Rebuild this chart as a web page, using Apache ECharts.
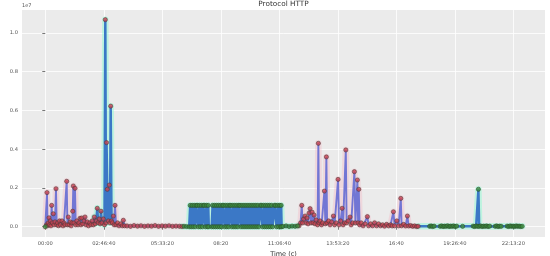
<!DOCTYPE html>
<html><head><meta charset="utf-8">
<script src="https://cdn.jsdelivr.net/npm/echarts@6/dist/echarts.min.js"></script>
<style>html,body{margin:0;padding:0;background:#fff}#c{width:550px;height:256px}</style>
</head><body><div id="c"></div><script>
// time in seconds since 00:00, dbytes in units of 1e7
const xTickValues = [0, 10000, 20000, 30000, 40000, 50000, 60000, 70000, 80000];
const xTickLabels = ['00:00', '02:46:40', '05:33:20', '08:20', '11:06:40', '13:53:20', '16:40', '19:26:40', '22:13:20'];
const yTickValues = [0, 0.2, 0.4, 0.6, 0.8, 1.0];

const dawnPoints = [[0, 0]];
const morningPoints = [
  [210,0.01],[290,0.176],[390,0.005],[510,0.02],[630,0.046],[740,0.01],[860,0.03],[970,0.005],
  [1090,0.11],[1200,0.02],[1370,0.067],[1490,0.01],[1660,0.025],[1830,0.196],[1950,0.01],[2090,0.02],
  [2260,0.005],[2430,0.03],[2600,0.01],[2860,0.03],[3030,0.005],[3200,0.02],[3370,0.01],[3660,0.234],
  [3780,0.01],[3930,0.05],[4090,0.01],[4260,0.025],[4430,0.005],[4570,0.02],[4690,0.08],[4790,0.21],
  [4910,0.02],[5080,0.198],[5200,0.01],[5390,0.03],[5590,0.01],[5760,0.02],[5930,0.043],[6100,0.01],
  [6220,0.045],[6410,0.015],[6620,0.03],[6790,0.05],[6960,0.01],[7170,0.025],[7390,0.005],[7610,0.02],
  [7810,0.01],[8020,0.03],[8210,0.01],[8380,0.05],[8550,0.015],[8720,0.03],[8890,0.095],[9050,0.02],
  [9220,0.04],[9390,0.015],[9520,0.08],[9700,0.02],[9920,0.04],[10120,0.01],[10260,1.068],[10380,0.02],
  [10470,0.434],[10600,0.193],[10770,0.03],[10940,0.215],[11060,0.02],[11180,0.622],[11320,0.03],[11460,0.02],
  [11630,0.055],[11780,0.01],[11920,0.11],[12090,0.01],[12350,0.02],[12600,0.005],[12910,0.015],[13170,0.005],
  [13340,0.033],[13540,0.005],[13970,0.004],[14570,0.002],[15170,0.006],[15770,0.003],[16360,0.005],[16960,0.002],
  [17560,0.004],[18160,0.003],[18760,0.006],[19360,0.002],[19960,0.004],[20550,0.003],[21150,0.005],[21750,0.002],
  [22350,0.003],[22950,0.002],[23380,0.001]
];
const blockPoints = [
  [23720,0.002],[24150,0.001],[24600,0],[24770,0.11],[24940,0],[25110,0.11],[25280,0],[25450,0.11],
  [25620,0],[25790,0.11],[25990,0.11],[26160,0],[26330,0.11],[26500,0],[26670,0.11],[26840,0],
  [27010,0.11],[27210,0.11],[27380,0],[27550,0.11],[27720,0],[27850,0.11],[27950,0],[28450,0],
  [28600,0.11],[28770,0],[28940,0.11],[29110,0],[29280,0.11],[29450,0],[29620,0.11],[29790,0],
  [29960,0.11],[30130,0],[30300,0.11],[30500,0.11],[30670,0],[30840,0.11],[31010,0],[31180,0.11],
  [31350,0],[31520,0.11],[31720,0.11],[31890,0],[32060,0.11],[32230,0],[32400,0.11],[32570,0],
  [32740,0.11],[32910,0],[33080,0.11],[33280,0.11],[33450,0],[33620,0.11],[33790,0],[33960,0.11],
  [34130,0],[34300,0.11],[34470,0],[34640,0.11],[34810,0],[34980,0.11],[35150,0],[35320,0.11],
  [35490,0],[35660,0.11],[35830,0],[36000,0.11],[36170,0],[36340,0.11],[36510,0],[36780,0.11],
  [36980,0.11],[37150,0],[37320,0.11],[37490,0],[37660,0.11],[37830,0],[38000,0.11],[38170,0],
  [38340,0.11],[38510,0],[38680,0.11],[38850,0],[39170,0.11],[39370,0.11],[39540,0],[39710,0.11],
  [39880,0],[40050,0.11],[40220,0],[40320,0.11],[40400,0],[40650,0.002],[41160,0.004],[41680,0.001],
  [42190,0.003],[42700,0.002],[43130,0.004]
];
const afternoonPoints = [
  [43380,0.005],[43640,0.02],[43840,0.11],[43980,0.02],[44150,0.04],[44410,0.055],[44580,0.02],[44750,0.045],
  [44920,0.015],[45090,0.07],[45260,0.093],[45430,0.02],[45610,0.075],[45780,0.02],[45950,0.06],[46120,0.015],
  [46290,0.035],[46550,0.01],[46680,0.43],[46800,0.02],[46970,0.03],[47230,0.01],[47400,0.02],[47710,0.184],
  [47880,0.015],[48050,0.36],[48170,0.02],[48430,0.03],[48680,0.01],[48940,0.025],[49250,0.055],[49450,0.01],
  [49710,0.02],[50050,0.244],[50220,0.01],[50480,0.03],[50740,0.095],[50910,0.01],[51160,0.02],[51370,0.396],
  [51510,0.02],[51760,0.03],[52100,0.05],[52280,0.01],[52530,0.02],[52840,0.284],[53010,0.02],[53350,0.241],
  [53470,0.02],[53590,0.193],[53730,0.01],[53990,0.02],[54330,0.005],[54670,0.015],[55060,0.052],[55270,0.005],
  [55610,0.015],[55950,0.005],[56290,0.02],[56640,0.005],[56980,0.015],[57320,0.005],[57660,0.01],[58000,0.003],
  [58350,0.012],[58690,0.004],[59030,0.01],[59290,0.004],[59510,0.077],[59710,0.005],[60090,0.03],[60400,0.005],
  [60770,0.146],[60910,0.005],[61250,0.012],[61590,0.004],[61900,0.055],[62110,0.004],[62450,0.006],[62790,0.002],
  [63130,0.004],[63480,0.001],[63730,0.002]
];
const eveningPoints = [
  [65700,0.002],[65950,0.004],[66210,0.001],[66470,0.003],[67490,0.002],[67750,0.004],[68010,0.001],[68260,0.003],
  [68520,0.002],[68780,0.005],[69030,0.001],[69290,0.003],[69550,0.002],[69800,0.004],[70060,0.001],[70320,0.003],
  [71340,0.002],[73140,0.003],[73390,0.001],[73650,0.004],[73910,0.002],[74040,0.193],[74160,0.002],[74420,0.004],
  [74680,0.001],[74930,0.003],[75190,0.002],[75450,0.004],[75700,0.001],[75960,0.003],[76900,0.002],[77160,0.004],
  [77410,0.001],[77670,0.003],[77930,0.002],[78950,0.003],[79210,0.001],[79460,0.004],[79720,0.002],[79980,0.003],
  [80230,0.001],[80490,0.004],[80750,0.002],[81000,0.003],[81260,0.001],[81520,0.002]
];
// time spans of the label shading (start, end, class)
const labelSpans = [[-6000, 8500, 'attack'], [8500, 11700, 'normal'], [11700, 23550, 'attack'],
                    [23550, 43250, 'normal'], [43250, 63800, 'attack'], [63800, 90000, 'normal']];

const FONT = 'DejaVu Sans';
const allPoints = dawnPoints.concat(morningPoints, blockPoints, afternoonPoints, eveningPoints)
  .slice().sort((a, b) => a[0] - b[0]);
const attackPoints = morningPoints.concat(afternoonPoints);
const normalPoints = dawnPoints.concat(blockPoints, eveningPoints);

const haloColor = { attack: 'rgba(255,120,150,0.17)', normal: 'rgba(120,255,205,0.40)' };
const lineColor = { attack: '#7276d4', normal: '#3b78c6' };
const lineWidth = { attack: 1.9, normal: 2.5 };

function spanData(span) {
  const out = [];
  let prev = null;
  for (const p of allPoints) {
    if (p[0] < span[0]) prev = p;
    else if (p[0] < span[1]) out.push(p);
  }
  if (prev && out.length) out.unshift(prev);
  return out;
}

const series = [];
labelSpans.forEach(s => {
  series.push({ type: 'line', data: spanData(s), symbol: 'none', silent: true, z: 1,
    lineStyle: { width: 6.5, color: haloColor[s[2]], cap: 'round', join: 'round' } });
});
labelSpans.forEach(s => {
  series.push({ type: 'line', data: spanData(s), symbol: 'none', silent: true, z: 2,
    lineStyle: { width: lineWidth[s[2]], color: lineColor[s[2]] } });
});
series.push({ type: 'scatter', data: attackPoints, symbolSize: 4.2, silent: true, z: 3,
  itemStyle: { color: '#c8404e', borderColor: '#4a3a3a', borderWidth: 0.7 } });
series.push({ type: 'scatter', data: normalPoints, symbolSize: 4.2, silent: true, z: 3,
  itemStyle: { color: '#3c8c3c', borderColor: '#2a4a2a', borderWidth: 0.7 } });

const chart = echarts.init(document.getElementById('c'), null, { renderer: 'canvas' });
chart.setOption({
  animation: false,
  backgroundColor: '#ffffff',
  textStyle: { fontFamily: FONT },
  grid: { left: 22, right: 5, top: 10, bottom: 19, show: true, backgroundColor: '#EBEBEB', borderWidth: 0,
          containLabel: false, outerBoundsMode: 'none' },
  xAxis: {
    type: 'value', min: -3980, max: 85420,
    axisLine: { show: false },
    axisTick: { show: true, length: 3, customValues: xTickValues, lineStyle: { color: '#555', width: 0.8 } },
    axisLabel: { customValues: xTickValues, formatter: v => xTickLabels[xTickValues.indexOf(v)], fontSize: 5.2, color: '#555', margin: 4, fontFamily: FONT },
    splitLine: { show: true, lineStyle: { color: '#ffffff', width: 0.8 } },
    name: 'Time (c)', nameLocation: 'middle', nameGap: 9,
    nameTextStyle: { fontSize: 6.5, color: '#333', fontFamily: FONT }
  },
  yAxis: {
    type: 'value', min: -0.053, max: 1.118,
    axisLine: { show: false },
    axisTick: { show: true, length: 3, customValues: yTickValues, lineStyle: { color: '#555', width: 0.8 } },
    axisLabel: { customValues: yTickValues, formatter: v => v.toFixed(1), fontSize: 5.2, color: '#555', margin: 4, fontFamily: FONT },
    splitLine: { show: true, lineStyle: { color: '#ffffff', width: 0.8 } },
    name: 'dbytes', nameLocation: 'middle', nameGap: 13, nameRotate: 90,
    nameTextStyle: { fontSize: 6.3, color: '#333', fontFamily: FONT }
  },
  graphic: [
    { type: 'text', x: 283.5, y: 4.5, style: { text: 'Protocol HTTP', font: '7.3px "DejaVu Sans"', fill: '#333', textAlign: 'center', textVerticalAlign: 'middle' } },
    { type: 'text', x: 22, y: 6, style: { text: '1e7', font: '5px "DejaVu Sans"', fill: '#555', textAlign: 'left', textVerticalAlign: 'middle' } }
  ],
  series: series
});
</script></body></html>
